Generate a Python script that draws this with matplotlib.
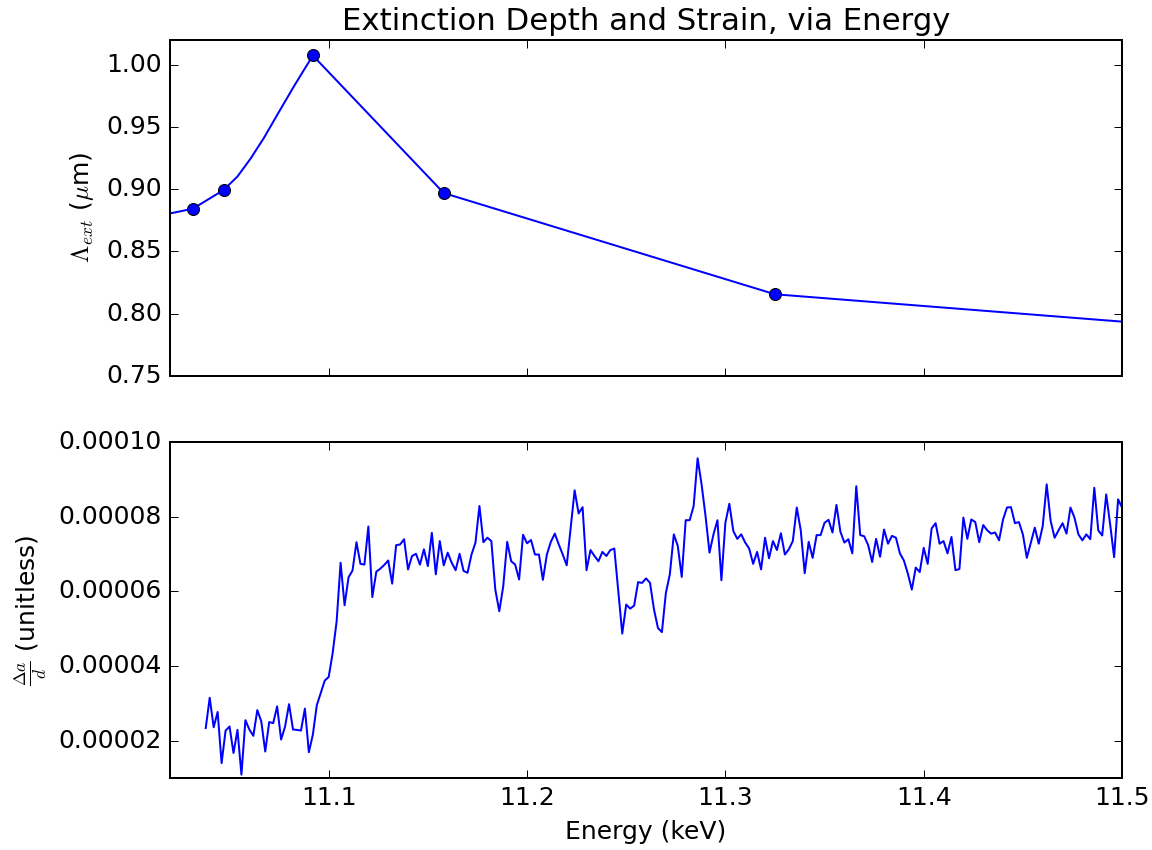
import numpy as np
import matplotlib
matplotlib.use('Agg')
import matplotlib.pyplot as plt

plt.style.use('classic')
plt.rcParams['font.size'] = 12.5
plt.rcParams['axes.formatter.useoffset'] = False

# extinction depth vs energy (curve) and the energies it was sampled at
depth_energy = [11.020, 11.0315, 11.047, 11.054, 11.0607, 11.0674, 11.0742,
                11.0825, 11.092, 11.158, 11.325, 11.500]
depth_um = [0.8805, 0.8843, 0.8993, 0.9102, 0.9248, 0.9414, 0.9602,
            0.9828, 1.0075, 0.8969, 0.8155, 0.7935]
sample_energy = [11.0315, 11.047, 11.092, 11.158, 11.325]
sample_depth = [0.8843, 0.8993, 1.0075, 0.8969, 0.8155]

# strain (delta a / d), in units of 1e-5, scan from 11.038 to 11.5 keV
strain_e5 = [
    2.34, 3.15, 2.36, 2.77, 1.40, 2.27, 2.38, 1.67, 2.29, 1.09,
    2.55, 2.30, 2.13, 2.82, 2.52, 1.71, 2.50, 2.47, 2.92, 2.03,
    2.38, 2.98, 2.30, 2.29, 2.27, 2.86, 1.69, 2.16, 2.95, 3.28,
    3.61, 3.71, 4.35, 5.20, 6.77, 5.63, 6.38, 6.56, 7.32, 6.74,
    6.72, 7.74, 5.85, 6.53, 6.61, 6.71, 6.83,
    6.21, 7.24, 7.26, 7.40, 6.59, 6.95, 7.01, 6.72, 7.13, 6.68,
    7.57, 6.46, 7.35, 6.70, 7.04, 6.77, 6.57, 7.01, 6.55, 6.50,
    6.99, 7.31, 8.29, 7.32, 7.44, 7.35, 6.05, 5.47, 6.14, 7.33,
    6.81, 6.72, 6.32, 7.52, 7.29, 7.38, 6.99, 6.99, 6.31, 6.99,
    7.33, 7.55, 7.26, 6.99, 6.70, 7.71,
    8.71, 8.09, 8.26, 6.57, 7.11, 6.95, 6.81, 7.06, 6.95, 7.11,
    7.15, 6.01, 4.87, 5.65, 5.54, 5.62, 6.25, 6.23, 6.35, 6.23,
    5.52, 5.02, 4.91, 5.96, 6.46, 7.53, 7.22, 6.39, 7.91, 7.91,
    8.29, 9.57, 8.87, 8.02, 7.04, 7.53, 7.91, 6.30, 7.84, 8.35,
    7.62, 7.41, 7.53, 7.31, 7.15, 6.74,
    7.06, 6.59, 7.44, 6.89, 7.35, 7.11, 7.56, 6.99, 7.13, 7.35,
    8.25, 7.64, 6.49, 7.33, 6.90, 7.51, 7.51, 7.84, 7.92, 7.58,
    8.32, 7.60, 7.31, 7.40, 7.02, 8.82, 7.51, 7.48, 7.24, 6.79,
    7.41, 6.93, 7.66, 7.28, 7.49, 7.44, 7.02, 6.83, 6.48, 6.05,
    6.64, 6.52, 7.17, 6.74, 7.69, 7.83, 7.28,
    7.35, 7.02, 7.46, 6.57, 6.60, 7.98, 7.41, 7.93, 7.86, 7.32,
    7.78, 7.64, 7.55, 7.58, 7.37, 7.93, 8.25, 8.26, 7.83, 7.86,
    7.53, 6.90, 7.31, 7.71, 7.28, 7.75, 8.87, 7.89, 7.44, 7.64,
    7.83, 7.55, 8.25, 7.98, 7.53, 7.37, 7.53, 7.40, 8.78, 7.64,
    7.50, 8.60, 7.80, 6.92, 8.47, 8.25,
]
strain = np.array(strain_e5) * 1e-5
strain_energy = np.linspace(11.038, 11.5, len(strain))

fig, (ax1, ax2) = plt.subplots(2, 1, sharex=True, figsize=(8, 850 / 144), dpi=144)
fig.subplots_adjust(left=0.1476, right=0.974, top=0.953, bottom=0.0847, hspace=0.198)

ax1.plot(depth_energy, depth_um, 'b-')
ax1.plot(sample_energy, sample_depth, 'bo')
ax1.set_ylim(0.75, 1.02)
ax1.set_ylabel(r'$\Lambda_{ext}$ ($\mu$m)')
ax1.set_title('Extinction Depth and Strain, via Energy', fontsize=15.4)
plt.setp(ax1.get_xticklabels(), visible=False)

ax2.plot(strain_energy, strain, 'b-')
ax2.set_xlim(11.02, 11.5)
ax2.set_ylim(0.00001, 0.0001)
ax2.set_yticks([0.00002, 0.00004, 0.00006, 0.00008, 0.00010])
ax2.set_ylabel(r'$\frac{\Delta a}{d}$ (unitless)')
ax2.set_xlabel('Energy (keV)')

fig.savefig('out.png', dpi=144, facecolor='white')
